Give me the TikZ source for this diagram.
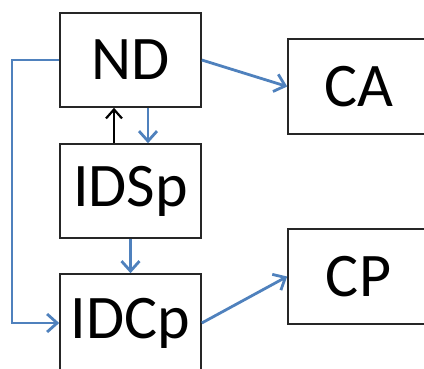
\documentclass[tikz,border=0pt]{standalone}
\usepackage{fontspec}
\setmainfont{Carlito}
\usetikzlibrary{arrows.meta}
\definecolor{offblue}{RGB}{79,129,189}
\begin{document}
\begin{tikzpicture}[x=1pt,y=1pt,
  box/.style={draw=black!85,line width=1.6pt,minimum width=141pt,minimum height=94pt,inner sep=0pt,font=\fontsize{62}{62}\selectfont},
  barrow/.style={draw=offblue,line width=2.8pt,-{Straight Barb[length=10pt,width=18pt,line width=2.8pt]}},
  karrow/.style={draw=black,line width=2.2pt,-{Straight Barb[length=9pt,width=16pt,line width=2.2pt]}}]
\useasboundingbox (0,0) rectangle (424,-368);
\clip (0,0) rectangle (424,-368);
\node[box] (ND) at (130.5,-60) {ND};
\node[box] (IDSp) at (130.5,-191) {IDSp};
\node[box,minimum height=98pt] (IDCp) at (130.5,-323) {IDCp};
\node[box,minimum height=95pt] (CA) at (358.5,-86.5) {CA};
\node[box,minimum height=95pt] (CP) at (358.5,-276.5) {CP};
\coordinate (lft) at (12,-60);
\draw[karrow] ([xshift=-16.5pt]IDSp.north) -- ([xshift=-16.5pt]ND.south);
\draw[barrow] ([xshift=17.5pt]ND.south) -- ([xshift=17.5pt]IDSp.north);
\draw[barrow] (IDSp.south) -- (IDCp.north);
\draw[barrow] (ND.west) -- (lft) |- (IDCp.west);
\draw[barrow] (ND.east) -- (CA.west);
\draw[barrow] (IDCp.east) -- (CP.west);
\end{tikzpicture}
\end{document}
